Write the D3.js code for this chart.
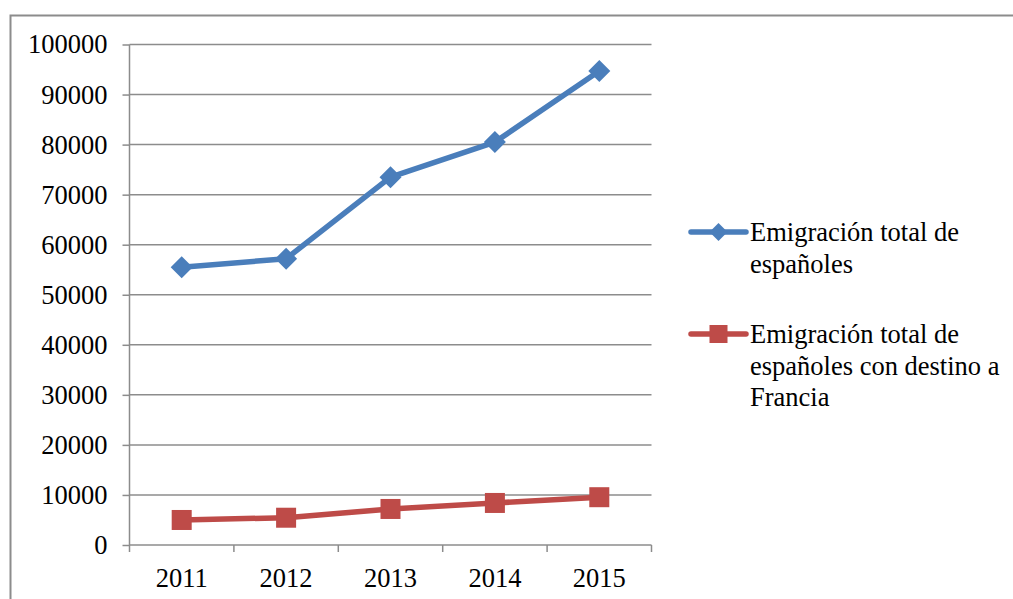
<!DOCTYPE html>
<html>
<head>
<meta charset="utf-8">
<script src="https://cdn.jsdelivr.net/npm/d3@7"></script>
<style>
  body { margin: 0; background: #fff; }
  svg text { font-family: "Liberation Serif", "Times New Roman", serif !important; fill: #000; }
</style>
</head>
<body>
<svg id="chart" width="1013" height="599"></svg>
<script>
// data
var years = ["2011", "2012", "2013", "2014", "2015"];
var totalEmigration = [55500, 57200, 73500, 80500, 94700];
var franceEmigration = [5000, 5450, 7200, 8400, 9550];
var yTicks = [0, 10000, 20000, 30000, 40000, 50000, 60000, 70000, 80000, 90000, 100000];
var seriesNames = [
    ["Emigración total de", "españoles"],
    ["Emigración total de", "españoles con destino a", "Francia"]
];

var svg = d3.select("#chart");
var fontSize = 26.5;

// outer chart border (runs off the right and bottom edges)
svg.append("rect")
    .attr("x", 10.5).attr("y", 15.5)
    .attr("width", 1013).attr("height", 600)
    .attr("fill", "none")
    .attr("stroke", "#8c8c8c")
    .attr("stroke-width", 2);

var plotLeft = 129.5, plotRight = 651.5, plotTop = 44.5, plotBottom = 545;

var x = d3.scaleBand().domain(years).range([plotLeft, plotRight]);
var y = d3.scaleLinear().domain([0, 100000]).range([plotBottom, plotTop]);

var g = svg.append("g");

// gridlines
g.selectAll("line.grid")
    .data(yTicks.filter(function (d) { return d > 0; }))
    .enter()
    .append("line")
    .attr("x1", plotLeft).attr("x2", plotRight)
    .attr("y1", function (d) { return y(d); })
    .attr("y2", function (d) { return y(d); })
    .attr("stroke", "#8c8c8c")
    .attr("stroke-width", 1.5);

// y axis
var yAxis = g.append("g")
    .attr("transform", "translate(" + plotLeft + ",0)")
    .call(d3.axisLeft(y).tickValues(yTicks).tickSize(7).tickPadding(15).tickFormat(d3.format("d")));
yAxis.attr("font-family", null).attr("font-size", null);
yAxis.select(".domain").attr("stroke", "#8c8c8c").attr("stroke-width", 1.5).attr("d", "M0," + plotBottom + "V" + plotTop);
yAxis.selectAll(".tick line").attr("stroke", "#8c8c8c").attr("stroke-width", 1.5);
yAxis.selectAll(".tick text")
    .style("font-size", fontSize + "px")
    .attr("fill", "#000");

// x axis with ticks between categories
var xAxis = g.append("g")
    .attr("transform", "translate(0," + plotBottom + ")");
xAxis.append("line")
    .attr("x1", plotLeft).attr("x2", plotRight)
    .attr("stroke", "#8c8c8c").attr("stroke-width", 1.5);
var bounds = years.map(function (d) { return x(d); }).concat([plotRight]);
xAxis.selectAll("line.tk")
    .data(bounds)
    .enter()
    .append("line")
    .attr("x1", function (d) { return d; })
    .attr("x2", function (d) { return d; })
    .attr("y1", 0).attr("y2", 7)
    .attr("stroke", "#8c8c8c").attr("stroke-width", 1.5);
xAxis.selectAll("text")
    .data(years)
    .enter()
    .append("text")
    .attr("x", function (d) { return x(d) + x.bandwidth() / 2; })
    .attr("y", 42)
    .attr("text-anchor", "middle")
    .style("font-size", fontSize + "px")
    .text(function (d) { return d; });

var cx = function (d, i) { return x(years[i]) + x.bandwidth() / 2; };
var line = d3.line().x(cx).y(function (d) { return y(d); });

var series = [
    {values: totalEmigration, color: "#4a7ebb", marker: "diamond"},
    {values: franceEmigration, color: "#be4b48", marker: "square"}
];

function drawMarker(sel, s) {
    if (s.marker == "diamond")
        sel.append("path").attr("d", "M0,-11L11,0L0,11L-11,0Z").attr("fill", s.color);
    else
        sel.append("rect").attr("x", -10).attr("y", -10).attr("width", 20).attr("height", 20).attr("fill", s.color);
}

series.forEach(function (s) {
    g.append("path")
        .attr("d", line(s.values))
        .attr("fill", "none")
        .attr("stroke", s.color)
        .attr("stroke-width", 5.5)
        .attr("stroke-linejoin", "round");
    s.values.forEach(function (v, i) {
        var m = g.append("g").attr("transform", "translate(" + cx(v, i) + "," + y(v) + ")");
        drawMarker(m, s);
    });
});

// legend
var legendY = [232, 334];
series.forEach(function (s, k) {
    var lg = svg.append("g").attr("transform", "translate(691," + legendY[k] + ")");
    lg.append("line")
        .attr("x1", 0).attr("x2", 55)
        .attr("stroke", s.color).attr("stroke-width", 5.5)
        .attr("stroke-linecap", "round");
    var m = lg.append("g").attr("transform", "translate(27.5,0)");
    if (s.marker == "diamond")
        m.append("path").attr("d", "M0,-9L9,0L0,9L-9,0Z").attr("fill", s.color);
    else
        m.append("rect").attr("x", -9).attr("y", -9).attr("width", 18).attr("height", 18).attr("fill", s.color);
    var t = lg.append("text")
        .attr("x", 59).attr("y", 9)
        .style("font-size", fontSize + "px");
    seriesNames[k].forEach(function (ln, j) {
        t.append("tspan").attr("x", 59).attr("dy", j == 0 ? 0 : 31.5).text(ln);
    });
});
</script>
</body>
</html>
